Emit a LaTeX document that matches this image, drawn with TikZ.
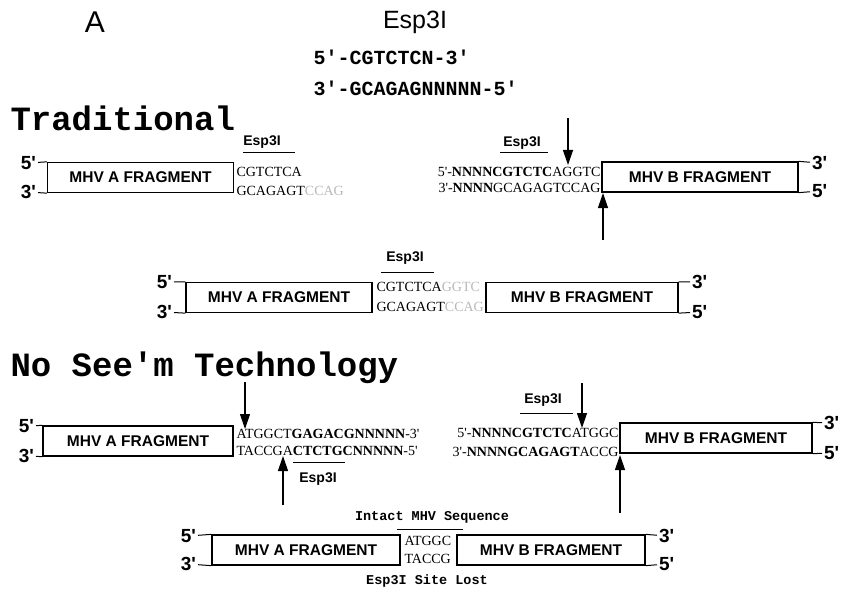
\documentclass[tikz,border=0pt]{standalone}
\usepackage{fontspec}
\setmainfont{Liberation Serif}
\setsansfont{Liberation Sans}
\setmonofont{Liberation Mono}
\usetikzlibrary{arrows.meta,positioning}
\definecolor{faint}{gray}{0.72}
\newcommand{\qs}{\textquotesingle}
\begin{document}
\begin{tikzpicture}[x=1pt, y=-1pt, line width=1pt,
  frag/.style = {draw, line width=1.3pt, minimum height=30pt, inner sep=0pt,
    font=\sffamily\bfseries\fontsize{15.5}{16}\selectfont},
  endlbl/.style = {font=\sffamily\bfseries\fontsize{19}{19}\selectfont, inner sep=1.5pt},
  seq/.style = {font=\fontsize{14}{14}\selectfont, inner sep=0pt, anchor=base west},
  enz/.style = {font=\sffamily\bfseries\fontsize{14}{14}\selectfont, inner sep=1pt},
  head/.style = {font=\ttfamily\bfseries\fontsize{34}{34}\selectfont, anchor=west, inner sep=0pt},
  site/.style = {font=\ttfamily\bfseries\fontsize{20}{20}\selectfont, anchor=west, inner sep=0pt},
  note/.style = {font=\ttfamily\bfseries\fontsize{13.5}{14}\selectfont, inner sep=0pt},
  cut/.style = {-{Triangle[length=15pt,width=10pt]}, line width=1.2pt}]
\useasboundingbox (0,0) rectangle (845,596);

% enzyme site
\node[font=\sffamily\fontsize{30}{30}\selectfont] (lA) at (95,22) {A};
\node[font=\sffamily\fontsize{25}{25}\selectfont] (enz) at (415,22) {Esp3I};
\node[site] (s5) at (313,57) {5\qs-CGTCTCN-3\qs};
\node[site] (s3) at (313,88) {3\qs-GCAGAGNNNNN-5\qs};

% traditional
\node[head] (h1) at (10,118) {Traditional};

\node[frag, minimum width=186pt] (tA) at (140.5,177.5) {MHV A FRAGMENT};
\node[endlbl, anchor=east] (tA5) at (38,163) {5\qs};
\node[endlbl, anchor=east] (tA3) at (38,192) {3\qs};
\draw (tA5) -- (tA.north west);
\draw (tA3) -- (tA.south west);
\node[enz] (tAe) at (262,142) {Esp3I};
\draw (243,153) -- (295,153);
\node[seq] (tA1) at (236,176) {CGTCTCA};
\node[seq] (tA2) at (236,195) {GCAGAGT\textcolor{faint}{CCAG}};

\node[frag, minimum width=196pt] (tB) at (700,177) {MHV B FRAGMENT};
\node[endlbl, anchor=west] (tB3) at (810,163) {3\qs};
\node[endlbl, anchor=west] (tB5) at (810,191) {5\qs};
\draw (tB.north east) -- (tB3);
\draw (tB.south east) -- (tB5);
\node[enz] (tBe) at (522,143) {Esp3I};
\draw (500,153) -- (548,153);
\node[seq, anchor=base east] (tB1) at (601,176) {5\qs-\textbf{NNNNCGTCTC}AGGTC};
\node[seq, anchor=base east] (tB2) at (601,193) {3\qs-\textbf{NNNN}GCAGAGTCCAG};
\coordinate (tBd0) at (568,118);
\coordinate (tBd1) at (568,165);
\draw[cut] (tBd0) -- (tBd1);
\coordinate (tBu0) at (603,240);
\coordinate (tBu1) at (603,193);
\draw[cut] (tBu0) -- (tBu1);

\node[frag, minimum width=186pt] (mA) at (279,297.5) {MHV A FRAGMENT};
\node[endlbl, anchor=east] (mA5) at (174,282) {5\qs};
\node[endlbl, anchor=east] (mA3) at (174,312) {3\qs};
\draw (mA5) -- (mA.north west);
\draw (mA3) -- (mA.south west);
\node[enz] (mAe) at (405,258) {Esp3I};
\draw (381,272) -- (434,272);
\node[seq] (m1) at (376,291) {CGTCTCA\textcolor{faint}{GGTC}};
\node[seq] (m2) at (376,311) {GCAGAGT\textcolor{faint}{CCAG}};
\node[frag, minimum width=192pt] (mB) at (582,297.5) {MHV B FRAGMENT};
\node[endlbl, anchor=west] (mB3) at (690,282) {3\qs};
\node[endlbl, anchor=west] (mB5) at (690,312) {5\qs};
\draw (mB.north east) -- (mB3);
\draw (mB.south east) -- (mB5);

% no see'm
\node[head] (h2) at (10,368) {No See\qs m Technology};

\node[frag, minimum width=190pt] (nA) at (138,441) {MHV A FRAGMENT};
\node[endlbl, anchor=east] (nA5) at (36,426) {5\qs};
\node[endlbl, anchor=east] (nA3) at (36,456) {3\qs};
\draw (nA5) -- (nA.north west);
\draw (nA3) -- (nA.south west);
\coordinate (nAd0) at (245,382);
\coordinate (nAd1) at (245,429);
\draw[cut] (nAd0) -- (nAd1);
\node[seq] (nA1) at (236,438) {ATGGCT\textbf{GAGACGNNNNN}-3\qs};
\node[seq] (nA2) at (236,455) {TACCGA\textbf{CTCTGCNNNNN}-5\qs};
\draw (293,462) -- (345,462);
\node[enz] (nAe) at (318,479) {Esp3I};
\coordinate (nAu0) at (283,505);
\coordinate (nAu1) at (283,456);
\draw[cut] (nAu0) -- (nAu1);

\node[frag, minimum width=192pt] (nB) at (716,438) {MHV B FRAGMENT};
\node[endlbl, anchor=west] (nB3) at (822,423) {3\qs};
\node[endlbl, anchor=west] (nB5) at (822,453) {5\qs};
\draw (nB.north east) -- (nB3);
\draw (nB.south east) -- (nB5);
\node[enz] (nBe) at (543,400) {Esp3I};
\draw (520,413) -- (573,413);
\coordinate (nBd0) at (582,383);
\coordinate (nBd1) at (582,428);
\draw[cut] (nBd0) -- (nBd1);
\node[seq, anchor=base east] (nB1) at (619,437) {5\qs-\textbf{NNNNCGTCTC}ATGGC};
\node[seq, anchor=base east] (nB2) at (619,456) {3\qs-\textbf{NNNNGCAGAGT}ACCG};
\coordinate (nBu0) at (620,513);
\coordinate (nBu1) at (620,455);
\draw[cut] (nBu0) -- (nBu1);

\node[note] (bt) at (432,517) {Intact MHV Sequence};
\draw (397,529) -- (463,529);
\node[frag, minimum width=188pt] (bA) at (306,550) {MHV A FRAGMENT};
\node[endlbl, anchor=east] (bA5) at (198,536) {5\qs};
\node[endlbl, anchor=east] (bA3) at (198,564) {3\qs};
\draw (bA5) -- (bA.north west);
\draw (bA3) -- (bA.south west);
\node[seq] (b1) at (404,545) {ATGGC};
\node[seq] (b2) at (404,563) {TACCG};
\node[frag, minimum width=188pt] (bB) at (551,550) {MHV B FRAGMENT};
\node[endlbl, anchor=west] (bB3) at (657,536) {3\qs};
\node[endlbl, anchor=west] (bB5) at (657,564) {5\qs};
\draw (bB.north east) -- (bB3);
\draw (bB.south east) -- (bB5);
\node[note] (bl) at (427,581) {Esp3I Site Lost};
\end{tikzpicture}
\end{document}
